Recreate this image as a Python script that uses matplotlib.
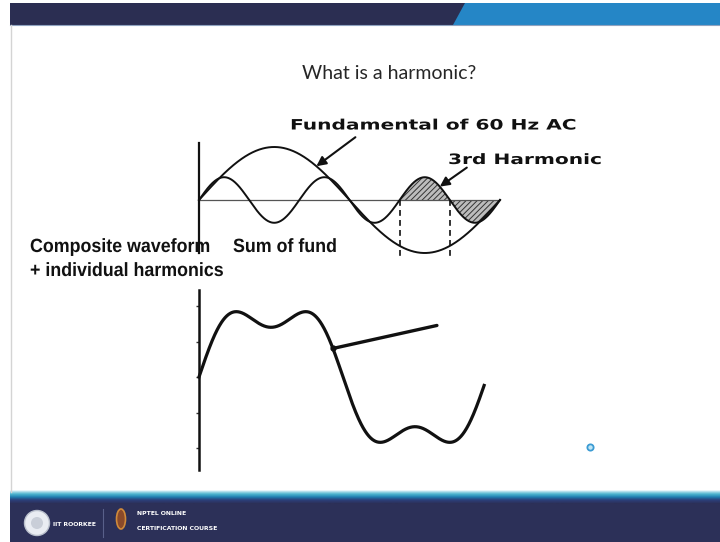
import numpy as np
import matplotlib
matplotlib.use("Agg")
import matplotlib.pyplot as plt
from matplotlib import patheffects
from matplotlib.patches import Polygon, Rectangle, Circle, Ellipse
from matplotlib.transforms import Affine2D

# harmonic content of the two sketches (amplitude relative to the fundamental)
HARMONIC_ORDERS = [1, 3]
TOP_AMPS = [1.0, 0.43]        # fundamental and 3rd harmonic drawn separately
SUM_AMPS = [1.0, 0.30]        # composite wave below
HATCH_SPAN = [2 / 3, 1.0]     # part of the cycle where the 3rd harmonic is shaded
DASH_AT = [2 / 3, 5 / 6]      # dashed drop lines
SUM_TICKS = [-1.0, -0.5, 0.0, 0.5, 1.0]

W, H = 720, 542


class HStretch(patheffects.AbstractPathEffect):
    """Draw text wider/narrower than the font, scaled about its anchor."""

    def __init__(self, sx):
        super().__init__()
        self.sx = sx

    def draw_path(self, renderer, gc, tpath, affine, rgbFace=None):
        m = affine.get_matrix()
        x0, y0 = m[0, 2], m[1, 2]
        affine = affine + Affine2D().translate(-x0, -y0).scale(self.sx, 1).translate(x0, y0)
        renderer.draw_path(gc, tpath, affine, rgbFace)


def px_axes(fig, x0, y0, x1, y1):
    return fig.add_axes([x0 / W, 1 - y1 / H, (x1 - x0) / W, (y1 - y0) / H])


def wave(t, amps, orders=HARMONIC_ORDERS):
    return sum(a * np.sin(2 * np.pi * n * t) for a, n in zip(amps, orders))


fig = plt.figure(figsize=(W / 100, H / 100), dpi=100)
fig.patch.set_facecolor("white")

# --- slide frame ---
bg = fig.add_axes([0, 0, 1, 1])
bg.set_xlim(0, W)
bg.set_ylim(H, 0)
bg.axis("off")

bg.add_patch(Rectangle((10, 3), W - 10, 22, color="#2b2e52", lw=0))
bg.add_patch(Polygon([(465, 3), (W, 3), (W, 25), (453, 25)], closed=True, color="#2586c6", lw=0))
bg.plot([10, W], [24.5, 24.5], color="#8fa3c0", lw=0.8)
bg.plot([11, 11], [25, 492], color="#d4d4d4", lw=1.0)

# footer: thin cyan-to-navy band then the dark strip
band = np.linspace(0, 1, 12).reshape(-1, 1)
band_cmap = matplotlib.colors.LinearSegmentedColormap.from_list(
    "band", ["#e6f6fa", "#4fb7d0", "#1f7fb0", "#2c3d78", "#2c3058"])
bg.imshow(band, cmap=band_cmap, extent=(10, W, 504, 490), aspect="auto", zorder=1)
bg.add_patch(Rectangle((10, 504), W - 10, H - 504, color="#2c3058", lw=0, zorder=1))

bg.add_patch(Circle((37, 523), 12.5, facecolor="#e9ecf2", edgecolor="#b9bfcc", lw=1.0, zorder=2))
bg.add_patch(Circle((37, 523), 6, facecolor="#c9ced8", edgecolor="none", zorder=3))
bg.text(53, 524, "IIT ROORKEE", color="white", fontsize=4.4, weight="bold",
        va="center", ha="left", zorder=3)
bg.plot([103, 103], [509, 537], color="#59608a", lw=0.8, zorder=2)
bg.add_patch(Ellipse((121, 519), 9, 20, facecolor="#8a4a2a", edgecolor="#d08a3a", lw=1.2, zorder=2))
bg.text(137, 513.5, "NPTEL ONLINE", color="white", fontsize=4.4, weight="bold",
        va="center", ha="left", zorder=3)
bg.text(137, 528, "CERTIFICATION COURSE", color="white", fontsize=4.4, weight="bold",
        va="center", ha="left", zorder=3)

# cursor dot
bg.plot([590], [447], marker="o", ms=4.5, mfc="#bfe6f6", mec="#3b9bd3", mew=1.3)

# --- text ---
bg.text(302, 79, "What is a harmonic?", ha="left", va="baseline", fontsize=14,
        family="Lato", color="#262626")

wide = dict(family="DejaVu Sans", weight="bold", fontsize=10.3, color="#111111",
            ha="left", va="baseline", path_effects=[HStretch(1.41)])
bg.text(290, 129.5, "Fundamental of 60 Hz AC", **wide)
bg.text(448, 164, "3rd Harmonic", **wide)

narrow = dict(family="Liberation Sans", weight="bold", fontsize=13.8, color="#111111",
              ha="left", va="baseline", path_effects=[HStretch(0.93)])
bg.text(30, 252, "Composite waveform", **narrow)
bg.text(30, 276, "+ individual harmonics", **narrow)
bg.text(233, 252, "Sum of fund", **narrow)

# --- fundamental and 3rd harmonic ---
t = np.linspace(0, 1, 800)
fund = wave(t, [TOP_AMPS[0]], [HARMONIC_ORDERS[0]])
third = wave(t, [TOP_AMPS[1]], [HARMONIC_ORDERS[1]])

ax = px_axes(fig, 199, 140, 500, 262)
ax.set_xlim(0, 1)
ax.set_ylim(-62 / 53, 60 / 53)
ax.axis("off")

ax.plot([0, 1], [0, 0], color="#555555", lw=0.9)
ax.plot([0, 0], [1.07, -1.0], color="#111111", lw=1.6, clip_on=False)
ax.plot(t, fund, color="#111111", lw=1.4, clip_on=False)
ax.plot(t, third, color="#111111", lw=1.4, clip_on=False)

mask = (t >= HATCH_SPAN[0]) & (t <= HATCH_SPAN[1])
plt.rcParams["hatch.linewidth"] = 0.7
ax.fill_between(t[mask], 0, third[mask], facecolor="#bcbcbc", edgecolor="#333333",
                hatch="//////", lw=0)

for x in DASH_AT:
    ax.plot([x, x], [0, -1.1], color="#111111", lw=1.2, ls=(0, (3.5, 2.5)), clip_on=False)

arrow = dict(arrowstyle="-|>", color="#111111", lw=1.5, mutation_scale=14, shrinkA=0, shrinkB=0)
p = 0.39
ax.annotate("", xy=(p, wave(p, [TOP_AMPS[0]], [1])), xytext=(39, 29),
            textcoords="offset pixels", arrowprops=arrow, annotation_clip=False)
p = 0.80
ax.annotate("", xy=(p, wave(p, [TOP_AMPS[1]], [3])), xytext=(27, 19),
            textcoords="offset pixels", arrowprops=arrow, annotation_clip=False)

# --- composite waveform ---
ts = np.linspace(0, 0.99, 800)
total = wave(ts, SUM_AMPS)

ax2 = px_axes(fig, 199, 290, 487, 470)
ax2.set_xlim(0, 1)
ax2.set_ylim(-93 / 71, 87 / 71)
ax2.patch.set_visible(False)
for side in ["top", "right", "bottom"]:
    ax2.spines[side].set_visible(False)
ax2.spines["left"].set_linewidth(1.8)
ax2.spines["left"].set_color("#111111")
ax2.set_xticks([])
ax2.set_yticks(SUM_TICKS)
ax2.set_yticklabels([])
ax2.tick_params(axis="y", length=2.5, width=1.0, color="#333333")

ax2.plot(ts, total, color="#111111", lw=2.3, clip_on=False)

p = 0.465
y_p = wave(p, SUM_AMPS)
ax2.plot([p], [y_p], marker="o", ms=3.5, color="#111111")
ax2.annotate("", xy=(p, y_p), xytext=(104, 23), textcoords="offset pixels",
             arrowprops=dict(arrowstyle="-", color="#111111", lw=2.4, shrinkA=0, shrinkB=0),
             annotation_clip=False)

fig.savefig("out.png", dpi=100, facecolor="white")
